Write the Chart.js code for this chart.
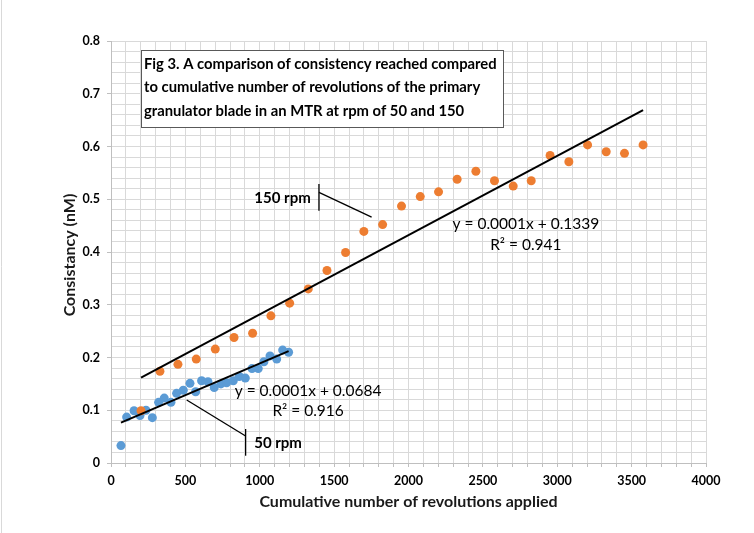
<!DOCTYPE html>
<html>
<head>
<meta charset="utf-8">
<script src="https://cdn.jsdelivr.net/npm/chart.js@4.4.1/dist/chart.umd.min.js"></script>
<style>
    html, body { margin: 0; padding: 0; background: #ffffff; }
    #wrap { position: relative; width: 754px; height: 533px; }
</style>
</head>
<body>
<div id="wrap"><canvas id="consistencyChart" width="754" height="533"></canvas></div>
<script>
// Fig 3：兩種轉速下，稠度隨累積轉數變化的散佈圖＋線性趨勢線

// 50 rpm 的量測點（藍）
const rpm50Revs = [67, 105, 155, 195, 235, 278, 320, 358, 403, 441, 486, 531, 569, 609, 652, 694, 739, 777, 822, 862, 903, 948, 990, 1028, 1069, 1114, 1154, 1194];
const rpm50Consistency = [0.033, 0.087, 0.099, 0.090, 0.100, 0.086, 0.115, 0.123, 0.115, 0.132, 0.138, 0.151, 0.135, 0.156, 0.154, 0.143, 0.150, 0.152, 0.156, 0.164, 0.161, 0.179, 0.179, 0.192, 0.203, 0.197, 0.214, 0.210];

// 150 rpm 的量測點（橘）
const rpm150Revs = [202, 329, 450, 573, 701, 827, 952, 1075, 1201, 1326, 1452, 1577, 1700, 1826, 1953, 2079, 2202, 2327, 2453, 2578, 2704, 2825, 2952, 3078, 3204, 3329, 3452, 3577];
const rpm150Consistency = [0.099, 0.174, 0.187, 0.197, 0.216, 0.238, 0.246, 0.279, 0.303, 0.330, 0.365, 0.399, 0.439, 0.452, 0.487, 0.505, 0.514, 0.538, 0.553, 0.535, 0.525, 0.535, 0.583, 0.571, 0.603, 0.590, 0.587, 0.603];

// 趨勢線兩端（從圖上讀的）
const rpm50TrendRevs = [67, 1194];
const rpm50TrendValues = [0.0764, 0.212];
const rpm150TrendRevs = [202, 3577];
const rpm150TrendValues = [0.162, 0.669];

// 座標軸刻度標籤
const xTickLabels = ["0", "500", "1000", "1500", "2000", "2500", "3000", "3500", "4000"];
const yTickLabels = ["0", "0.1", "0.2", "0.3", "0.4", "0.5", "0.6", "0.7", "0.8"];

const titleLines = [
    "Fig 3. A comparison of consistency reached compared",
    "to cumulative number of revolutions of the primary",
    "granulator blade in an MTR at rpm of 50 and 150"
];

// 圖上的文字標註與指示線（資料座標）
const noteTexts = [
    { text: "150 rpm", at: [1153, 0.503], bold: true },
    { text: "50 rpm", at: [1123, 0.0385], bold: true },
    { text: "y = 0.0001x + 0.1339", at: [2789, 0.453] },
    { text: "R² = 0.941", at: [2789, 0.413] },
    { text: "y = 0.0001x + 0.0684", at: [1325, 0.136] },
    { text: "R² = 0.916", at: [1325, 0.098] }
];
const calloutLines = [
    [[1398, 0.529], [1398, 0.478]],
    [[1398, 0.513], [1752, 0.466]],
    [[905, 0.0645], [905, 0.0138]],
    [[905, 0.0512], [509, 0.1194]]
];

const BLUE = "#5B9BD5";
const ORANGE = "#ED7D31";
const GRID = "#d9d9d9";
const AXIS = "#bfbfbf";
const FONT = "Lato, 'Open Sans', sans-serif";

function toPoints(xs, ys) {
    return xs.map((x, i) => ({ x: x, y: ys[i] }));
}

const figureNotes = {
    id: "figureNotes",
    beforeDraw(chart) {
        const ctx = chart.ctx;
        ctx.save();
        ctx.fillStyle = "#ffffff";
        ctx.fillRect(0, 0, chart.width, chart.height);
        ctx.strokeStyle = GRID;
        ctx.lineWidth = 1;
        ctx.beginPath();
        ctx.moveTo(1.5, 0);
        ctx.lineTo(1.5, chart.height);
        ctx.stroke();
        ctx.restore();
    },
    afterDatasetsDraw(chart) {
        const { ctx, scales: { x, y } } = chart;
        ctx.save();

        ctx.strokeStyle = "#000000";
        ctx.lineWidth = 1.3;
        calloutLines.forEach(([a, b]) => {
            ctx.beginPath();
            ctx.moveTo(x.getPixelForValue(a[0]), y.getPixelForValue(a[1]));
            ctx.lineTo(x.getPixelForValue(b[0]), y.getPixelForValue(b[1]));
            ctx.stroke();
        });

        ctx.textAlign = "center";
        ctx.textBaseline = "middle";
        noteTexts.forEach((note) => {
            ctx.font = note.bold ? `bold 15px ${FONT}` : `15.5px ${FONT}`;
            ctx.fillStyle = "#000000";
            ctx.fillText(note.text, x.getPixelForValue(note.at[0]), y.getPixelForValue(note.at[1]));
        });

        // 座標軸標題
        ctx.fillStyle = "#1a1a1a";
        ctx.font = `bold 16px ${FONT}`;
        ctx.fillText("Cumulative number of revolutions applied", (x.left + x.right) / 2, 502);
        ctx.translate(70, (y.top + y.bottom) / 2 + 3);
        ctx.rotate(-Math.PI / 2);
        ctx.fillText("Consistancy (nM)", 0, 0);
        ctx.restore();
    },
    afterDraw(chart) {
        const ctx = chart.ctx;
        ctx.save();
        ctx.fillStyle = "#ffffff";
        ctx.fillRect(141, 50, 362, 77);
        ctx.strokeStyle = "#595959";
        ctx.lineWidth = 1;
        ctx.strokeRect(141.5, 50.5, 362, 77);
        ctx.fillStyle = "#000000";
        ctx.font = `bold 14.8px ${FONT}`;
        ctx.textAlign = "left";
        ctx.textBaseline = "middle";
        titleLines.forEach((line, i) => {
            ctx.fillText(line, 144, 64 + i * 23.5);
        });
        ctx.restore();
    }
};

const ctx = document.getElementById("consistencyChart");
new Chart(ctx, {
    type: "scatter",
    data: {
        datasets: [
            {
                label: "150 rpm trend",
                type: "line",
                data: toPoints(rpm150TrendRevs, rpm150TrendValues),
                borderColor: "#000000",
                borderWidth: 2,
                pointRadius: 0,
                fill: false
            },
            {
                label: "50 rpm trend",
                type: "line",
                data: toPoints(rpm50TrendRevs, rpm50TrendValues),
                borderColor: "#000000",
                borderWidth: 2,
                pointRadius: 0,
                fill: false
            },
            {
                label: "150 rpm",
                data: toPoints(rpm150Revs, rpm150Consistency),
                backgroundColor: ORANGE,
                borderWidth: 0,
                pointRadius: 4.5,
                pointHoverRadius: 4.5
            },
            {
                label: "50 rpm",
                data: toPoints(rpm50Revs, rpm50Consistency),
                backgroundColor: BLUE,
                borderWidth: 0,
                pointRadius: 4.5,
                pointHoverRadius: 4.5
            }
        ]
    },
    options: {
        responsive: false,
        animation: false,
        layout: { padding: { top: 41, right: 48, left: 0, bottom: 0 } },
        plugins: {
            legend: { display: false },
            tooltip: { enabled: false }
        },
        scales: {
            x: {
                type: "linear",
                min: 0,
                max: 4000,
                afterFit: (scale) => { scale.height = 70; },
                border: { color: AXIS, width: 1 },
                grid: { color: GRID, tickColor: AXIS, tickLength: 4 },
                ticks: {
                    stepSize: 100,
                    maxTicksLimit: 100,
                    autoSkip: false,
                    maxRotation: 0,
                    padding: 6,
                    color: "#000000",
                    font: { family: FONT, size: 12.5, weight: "bold" },
                    callback: (value) => value % 500 === 0 ? xTickLabels[value / 500] : ""
                }
            },
            y: {
                min: 0,
                max: 0.8,
                afterFit: (scale) => { scale.width = 111; },
                border: { color: AXIS, width: 1 },
                grid: {
                    color: GRID,
                    tickLength: 4,
                    tickColor: (c) => Math.round(c.tick.value * 100) % 10 === 0 ? AXIS : "rgba(0,0,0,0)"
                },
                ticks: {
                    stepSize: 0.02,
                    maxTicksLimit: 100,
                    autoSkip: false,
                    padding: 7,
                    color: "#000000",
                    font: { family: FONT, size: 12.5, weight: "bold" },
                    callback: (value) => {
                        const hundredths = Math.round(value * 100);
                        return hundredths % 10 === 0 ? yTickLabels[hundredths / 10] : "";
                    }
                }
            }
        }
    },
    plugins: [figureNotes]
});
</script>
</body>
</html>
